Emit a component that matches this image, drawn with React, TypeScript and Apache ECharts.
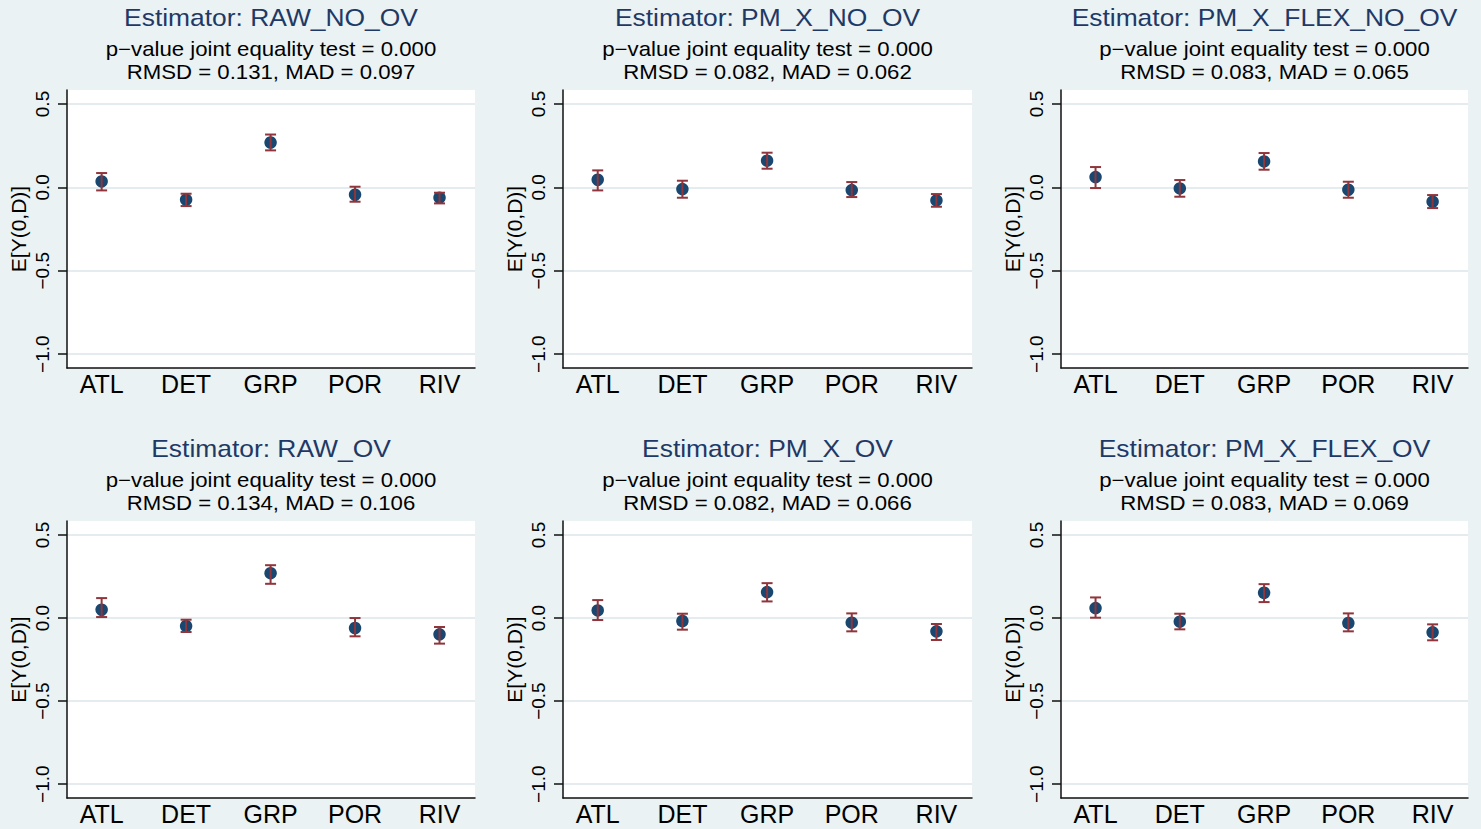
import React, { useEffect, useRef } from "react";
import * as echarts from "echarts";

// ---------- data ----------
const categories = ["ATL", "DET", "GRP", "POR", "RIV"];
const estimators = ["RAW_NO_OV", "PM_X_NO_OV", "PM_X_FLEX_NO_OV", "RAW_OV", "PM_X_OV", "PM_X_FLEX_OV"];
const pValues = [0.0, 0.0, 0.0, 0.0, 0.0, 0.0];
const rmsdValues = [0.131, 0.082, 0.083, 0.134, 0.082, 0.083];
const madValues = [0.097, 0.062, 0.065, 0.106, 0.066, 0.069];
const yTickValues = [-1, -0.5, 0, 0.5];

const rawNoOvEst = [0.036, -0.074, 0.269, -0.044, -0.062];
const rawNoOvLo = [-0.018, -0.112, 0.222, -0.086, -0.096];
const rawNoOvHi = [0.086, -0.038, 0.317, 0.004, -0.032];

const pmXNoOvEst = [0.046, -0.01, 0.16, -0.016, -0.078];
const pmXNoOvLo = [-0.018, -0.062, 0.112, -0.058, -0.116];
const pmXNoOvHi = [0.102, 0.04, 0.208, 0.032, -0.04];

const pmXFlexNoOvEst = [0.062, -0.006, 0.156, -0.014, -0.086];
const pmXFlexNoOvLo = [-0.004, -0.056, 0.106, -0.062, -0.124];
const pmXFlexNoOvHi = [0.122, 0.044, 0.206, 0.034, -0.046];

const rawOvEst = [0.05, -0.048, 0.27, -0.06, -0.098];
const rawOvLo = [0.006, -0.084, 0.206, -0.11, -0.154];
const rawOvHi = [0.12, -0.01, 0.318, 0.0, -0.054];

const pmXOvEst = [0.046, -0.018, 0.156, -0.028, -0.08];
const pmXOvLo = [-0.012, -0.07, 0.1, -0.08, -0.132];
const pmXOvHi = [0.108, 0.026, 0.21, 0.028, -0.036];

const pmXFlexOvEst = [0.06, -0.022, 0.152, -0.03, -0.086];
const pmXFlexOvLo = [0.002, -0.068, 0.096, -0.08, -0.134];
const pmXFlexOvHi = [0.124, 0.026, 0.204, 0.028, -0.038];

const panelEst = [rawNoOvEst, pmXNoOvEst, pmXFlexNoOvEst, rawOvEst, pmXOvEst, pmXFlexOvEst];
const panelLo = [rawNoOvLo, pmXNoOvLo, pmXFlexNoOvLo, rawOvLo, pmXOvLo, pmXFlexOvLo];
const panelHi = [rawNoOvHi, pmXNoOvHi, pmXFlexNoOvHi, rawOvHi, pmXOvHi, pmXFlexOvHi];

// ---------- layout / style ----------
const W = 1481;
const H = 829;
const colLeft = [67, 563, 1061];
const colWidth = [408, 409, 407];
const rowTop = [90, 521];
const rowHeight = [278, 277];
const FONT = "'Liberation Sans', Arial, Helvetica, sans-serif";
const BG = "#EAF2F3";
const NAVY = "#1A476F";
const MAROON = "#90353B";
const TITLE_COLOR = "#1f3966";
const GRID_COLOR = "#E4ECEF";

const fmtY = (v: number) => (v < 0 ? "\u2212" : "") + Math.abs(v).toFixed(1);

function buildOption() {
  const grid: any[] = [];
  const xAxis: any[] = [];
  const yAxis: any[] = [];
  const series: any[] = [];
  const graphic: any[] = [];

  for (let i = 0; i < 6; i++) {
    const col = i % 3;
    const row = Math.floor(i / 3);
    const left = colLeft[col];
    const top = rowTop[row];
    const width = colWidth[col];
    const height = rowHeight[row];
    const cx = left + width / 2;

    grid.push({
      left,
      top,
      width,
      height,
      show: true,
      backgroundColor: "#ffffff",
      borderWidth: 0,
      containLabel: false,
    });

    xAxis.push({
      type: "value",
      gridIndex: i,
      min: 0.59,
      max: 5.42,
      axisLine: { show: true, onZero: false, lineStyle: { color: "#111", width: 1.5 } },
      axisTick: { show: false },
      splitLine: { show: false },
      axisLabel: {
        customValues: [1, 2, 3, 4, 5],
        formatter: (v: number) => categories[Math.round(v) - 1] ?? "",
        fontSize: 25,
        fontFamily: FONT,
        color: "#000",
        margin: 3,
      },
    });

    yAxis.push({
      type: "value",
      gridIndex: i,
      min: -1.083,
      max: 0.584,
      name: "E[Y(0,D)]",
      nameLocation: "middle",
      nameRotate: 90,
      nameGap: 38,
      nameTextStyle: { fontSize: 21, fontFamily: FONT, color: "#000" },
      axisLine: { show: true, onZero: false, lineStyle: { color: "#111", width: 1.5 } },
      axisTick: {
        show: true,
        customValues: yTickValues,
        length: 9,
        lineStyle: { color: "#111", width: 1.5 },
      },
      splitLine: { show: true, lineStyle: { color: GRID_COLOR, width: 2 } },
      axisLabel: {
        customValues: yTickValues,
        formatter: fmtY,
        rotate: 90,
        fontSize: 19,
        fontFamily: FONT,
        color: "#000",
        margin: 15,
      },
    });

    const pts = categories.map((_, k) => [k + 1, panelEst[i][k]]);
    const bars = categories.map((_, k) => [k + 1, panelLo[i][k], panelHi[i][k]]);

    series.push({
      type: "scatter",
      xAxisIndex: i,
      yAxisIndex: i,
      data: pts,
      symbol: "circle",
      symbolSize: 12.5,
      itemStyle: { color: NAVY, opacity: 1 },
      z: 2,
      silent: true,
    });

    series.push({
      type: "custom",
      xAxisIndex: i,
      yAxisIndex: i,
      data: bars,
      z: 3,
      silent: true,
      renderItem: (params: any, api: any) => {
        const x = api.value(0);
        const lo = api.coord([x, api.value(1)]);
        const hi = api.coord([x, api.value(2)]);
        const hw = 5.5;
        const style = { stroke: MAROON, lineWidth: 2, fill: "none" };
        return {
          type: "group",
          children: [
            { type: "line", shape: { x1: lo[0], y1: lo[1], x2: hi[0], y2: hi[1] }, style },
            { type: "line", shape: { x1: lo[0] - hw, y1: lo[1], x2: lo[0] + hw, y2: lo[1] }, style },
            { type: "line", shape: { x1: hi[0] - hw, y1: hi[1], x2: hi[0] + hw, y2: hi[1] }, style },
          ],
        };
      },
    });

    const yOff = row === 0 ? 0 : 431;
    graphic.push({
      type: "text",
      x: cx,
      y: 17.5 + yOff,
      scaleX: 1.1,
      silent: true,
      style: {
        text: "Estimator: " + estimators[i],
        fontSize: 24,
        fontFamily: FONT,
        fill: TITLE_COLOR,
        align: "center",
        verticalAlign: "middle",
      },
    });
    graphic.push({
      type: "text",
      x: cx,
      y: 49 + yOff,
      scaleX: 1.11,
      silent: true,
      style: {
        text: "p\u2212value joint equality test = " + pValues[i].toFixed(3),
        fontSize: 20,
        fontFamily: FONT,
        fill: "#000",
        align: "center",
        verticalAlign: "middle",
      },
    });
    graphic.push({
      type: "text",
      x: cx,
      y: 72 + yOff,
      scaleX: 1.11,
      silent: true,
      style: {
        text: "RMSD = " + rmsdValues[i].toFixed(3) + ", MAD = " + madValues[i].toFixed(3),
        fontSize: 20,
        fontFamily: FONT,
        fill: "#000",
        align: "center",
        verticalAlign: "middle",
      },
    });
  }

  return {
    animation: false,
    backgroundColor: BG,
    grid,
    xAxis,
    yAxis,
    series,
    graphic,
  };
}

export default function App() {
  const ref = useRef<HTMLDivElement>(null);
  useEffect(() => {
    if (!ref.current) return;
    const chart = echarts.init(ref.current, undefined, { renderer: "svg" });
    chart.setOption(buildOption() as any);
    return () => chart.dispose();
  }, []);
  return (
    <div
      ref={ref}
      style={{ position: "fixed", left: 0, top: 0, width: W, height: H, background: BG }}
    />
  );
}
